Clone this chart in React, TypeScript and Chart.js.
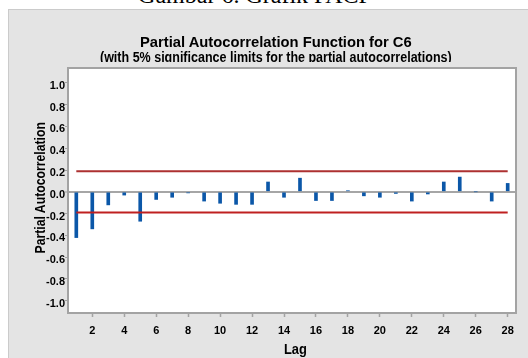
import React, { useEffect, useLayoutEffect, useRef } from "react";
import { Chart, registerables } from "chart.js";

Chart.register(...registerables);

// ---- data ----
const lags = [1, 2, 3, 4, 5, 6, 7, 8, 9, 10, 11, 12, 13, 14, 15, 16, 17, 18, 19, 20, 21, 22, 23, 24, 25, 26, 27, 28];
const pacf = [
  -0.42, -0.34, -0.12, -0.03, -0.27, -0.07, -0.05, -0.01, -0.085, -0.105,
  -0.115, -0.115, 0.09, -0.05, 0.125, -0.08, -0.08, 0.01, -0.037, -0.05,
  -0.015, -0.085, -0.02, 0.09, 0.135, 0.0, -0.085, 0.077,
];
const upperLimit = 0.189;
const lowerLimit = -0.189;
const xTicks = [2, 4, 6, 8, 10, 12, 14, 16, 18, 20, 22, 24, 26, 28];
const yTicks = [-1.0, -0.8, -0.6, -0.4, -0.2, 0.0, 0.2, 0.4, 0.6, 0.8, 1.0];

const caption = "Gambar 6. Grafik PACF";
const chartTitle = "Partial Autocorrelation Function for C6";
const chartSubtitle = "(with 5% significance limits for the partial autocorrelations)";
const xTitle = "Lag";
const yTitle = "Partial Autocorrelation";

const SANS = '"Liberation Sans", Arial, sans-serif';

function FitText({ text, width, style }: { text: string; width: number; style?: React.CSSProperties }) {
  const ref = useRef<HTMLSpanElement>(null);
  useLayoutEffect(() => {
    const el = ref.current;
    if (!el) return;
    el.style.transform = "none";
    const w = el.offsetWidth;
    if (w > 0) el.style.transform = `scaleX(${width / w})`;
  }, [text, width]);
  return (
    <span
      ref={ref}
      style={{ display: "inline-block", whiteSpace: "nowrap", transformOrigin: "center center", ...style }}
    >
      {text}
    </span>
  );
}

const framePlugin = {
  id: "frame",
  beforeDraw(chart: any) {
    const { ctx, chartArea: a } = chart;
    ctx.save();
    ctx.fillStyle = "#ffffff";
    ctx.fillRect(a.left, a.top, a.right - a.left, a.bottom - a.top);
    ctx.restore();
  },
  afterDraw(chart: any) {
    const { ctx, chartArea: a } = chart;
    ctx.save();
    ctx.strokeStyle = "#a3a3a3";
    ctx.lineWidth = 2;
    ctx.strokeRect(a.left, a.top, a.right - a.left, a.bottom - a.top);
    ctx.restore();
  },
};

export default function App() {
  const canvasRef = useRef<HTMLCanvasElement>(null);

  useEffect(() => {
    const canvas = canvasRef.current;
    if (!canvas) return;
    const chart = new Chart(canvas, {
      type: "bar",
      data: {
        datasets: [
          {
            type: "bar",
            data: lags.map((x, i) => ({ x, y: pacf[i] })),
            backgroundColor: "#0b57a8",
            barThickness: 3,
            order: 2,
          } as any,
          {
            type: "line",
            data: [
              { x: lags[0], y: upperLimit },
              { x: lags[lags.length - 1], y: upperLimit },
            ],
            borderColor: "#ad3131",
            borderWidth: 2,
            pointRadius: 0,
            order: 1,
          } as any,
          {
            type: "line",
            data: [
              { x: lags[0], y: lowerLimit },
              { x: lags[lags.length - 1], y: lowerLimit },
            ],
            borderColor: "#bf2020",
            borderWidth: 2,
            pointRadius: 0,
            order: 1,
          } as any,
        ],
      },
      options: {
        responsive: false,
        animation: false,
        events: [],
        layout: { padding: { top: 68, right: 12, left: 0, bottom: 0 } },
        plugins: { legend: { display: false }, tooltip: { enabled: false }, title: { display: false } },
        scales: {
          x: {
            type: "linear",
            offset: false,
            min: 0.48,
            max: 28.52,
            afterFit(scale: any) {
              scale.height = 45;
            },
            afterBuildTicks(scale: any) {
              scale.ticks = xTicks.map((v) => ({ value: v }));
            },
            border: { display: false },
            grid: {
              display: true,
              offset: false,
              drawOnChartArea: false,
              drawTicks: true,
              tickLength: 4,
              tickColor: "#a3a3a3",
              tickWidth: 1.5,
            },
            ticks: {
              autoSkip: false,
              maxRotation: 0,
              padding: 7,
              color: "#000",
              font: { family: SANS, size: 11, weight: "bold" },
              callback: (v: any) => String(v),
            },
          } as any,
          y: {
            type: "linear",
            min: -1.112,
            max: 1.136,
            afterFit(scale: any) {
              scale.width = 68;
            },
            afterBuildTicks(scale: any) {
              scale.ticks = yTicks.map((v) => ({ value: v }));
            },
            border: { display: false },
            grid: {
              display: true,
              drawOnChartArea: true,
              drawTicks: true,
              tickLength: 3,
              tickColor: "#a3a3a3",
              tickWidth: 1,
              color: (ctx: any) => (ctx.tick && ctx.tick.value === 0 ? "#a6a6a6" : "rgba(0,0,0,0)"),
              lineWidth: (ctx: any) => (ctx.tick && ctx.tick.value === 0 ? 2 : 1),
            },
            ticks: {
              autoSkip: false,
              padding: 0,
              labelOffset: 3,
              color: "#000",
              font: { family: SANS, size: 11, weight: "bold" },
              callback: (v: any) => Number(v).toFixed(1),
            },
          } as any,
        },
      },
      plugins: [framePlugin],
    });
    return () => chart.destroy();
  }, []);

  return (
    <div style={{ position: "absolute", left: 0, top: 0, width: 528, height: 358, overflow: "hidden", background: "#fff" }}>
      <div
        style={{
          position: "absolute",
          left: 255 - 200,
          top: -17,
          width: 400,
          textAlign: "center",
          fontFamily: '"Liberation Serif", "Times New Roman", serif',
          fontSize: 24,
          lineHeight: "24px",
          color: "#000",
          whiteSpace: "nowrap",
        }}
      >
        {caption}
      </div>
      <div
        style={{
          position: "absolute",
          left: 8,
          top: 9,
          width: 540,
          height: 370,
          background: "#e4e4e4",
          border: "1px solid #cbcbcb",
        }}
      />
      <canvas ref={canvasRef} width={528} height={358} style={{ position: "absolute", left: 0, top: 0 }} />
      <div
        style={{
          position: "absolute",
          left: 276 - 250,
          top: 34.5,
          width: 500,
          textAlign: "center",
          fontFamily: SANS,
          fontWeight: "bold",
          fontSize: 14,
          lineHeight: "14px",
          color: "#000",
        }}
      >
        <FitText text={chartTitle} width={272} />
      </div>
      <div
        style={{
          position: "absolute",
          left: 276 - 250,
          top: 49.5,
          width: 500,
          height: 12,
          overflow: "hidden",
          textAlign: "center",
          fontFamily: SANS,
          fontWeight: "bold",
          fontSize: 14,
          lineHeight: "14px",
          color: "#000",
        }}
      >
        <FitText text={chartSubtitle} width={352} />
      </div>
      <div
        style={{
          position: "absolute",
          left: 40 - 150,
          top: 187.5 - 7,
          width: 300,
          height: 14,
          textAlign: "center",
          fontFamily: SANS,
          fontWeight: "bold",
          fontSize: 14,
          lineHeight: "14px",
          color: "#000",
          transform: "rotate(-90deg)",
          transformOrigin: "center center",
        }}
      >
        <FitText text={yTitle} width={131} />
      </div>
      <div
        style={{
          position: "absolute",
          left: 295 - 50,
          top: 342,
          width: 100,
          textAlign: "center",
          fontFamily: SANS,
          fontWeight: "bold",
          fontSize: 14,
          lineHeight: "14px",
          color: "#000",
        }}
      >
        <FitText text={xTitle} width={23} />
      </div>
    </div>
  );
}
